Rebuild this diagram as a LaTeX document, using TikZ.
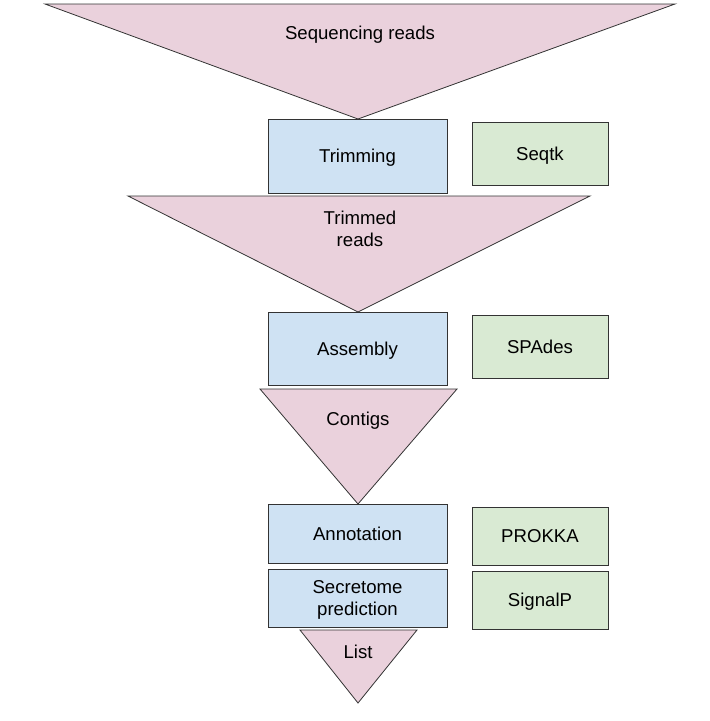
\documentclass[tikz,border=0pt]{standalone}
\usepackage{fontspec}
\setmainfont{Liberation Sans}
\definecolor{datapink}{HTML}{EAD1DC}
\definecolor{stepblue}{HTML}{CFE2F3}
\definecolor{toolgreen}{HTML}{D9EAD3}
\definecolor{edgegray}{HTML}{333333}
\tikzset{
  datatri/.style={fill=datapink, draw=edgegray, line width=0.8pt, line join=miter},
  stepbox/.style={draw=edgegray, fill=stepblue, line width=0.8pt, minimum width=179pt, align=center, inner sep=0pt, text depth=0pt},
  toolbox/.style={draw=edgegray, fill=toolgreen, line width=0.8pt, minimum width=136pt, minimum height=63pt, inner sep=0pt, text depth=0pt},
  label/.style={align=center, inner sep=0pt}
}
\begin{document}
\begin{tikzpicture}[x=1pt, y=-1pt, font=\fontsize{18.6}{22}\selectfont]
  \useasboundingbox (0,0) rectangle (710,721);

  % Data
  \draw [datatri] (45,4) -- (675,4) -- (358,119) -- cycle;
  \draw [datatri] (128,196) -- (590,196) -- (358,312) -- cycle;
  \draw [datatri] (260,389) -- (457,389) -- (358,504) -- cycle;
  \draw [datatri] (300,630) -- (417,630) -- (358,703) -- cycle;
  \node [label] (reads) at (360,35) {Sequencing reads};
  \node [label] (trimmed) at (360,229) {Trimmed\\reads};
  \node [label] (contigs) at (358,421) {Contigs};
  \node [label] (list) at (358,652) {List};

  % Steps
  \node [stepbox, minimum height=74pt] (trim) at (357.5,156) {Trimming};
  \node [stepbox, minimum height=73pt] (assembly) at (357.5,348.5) {Assembly};
  \node [stepbox, minimum height=59pt] (annot) at (357.5,533.5) {Annotation};
  \node [stepbox, minimum height=58pt] (secret) at (357.5,598) {Secretome\\prediction};

  % Tools
  \node [toolbox] (seqtk) at (540,153.5) {Seqtk};
  \node [toolbox] (spades) at (540,346.5) {SPAdes};
  \node [toolbox, minimum height=58pt] (prokka) at (540,536) {PROKKA};
  \node [toolbox, minimum height=58pt] (signalp) at (540,600) {SignalP};
\end{tikzpicture}
\end{document}
